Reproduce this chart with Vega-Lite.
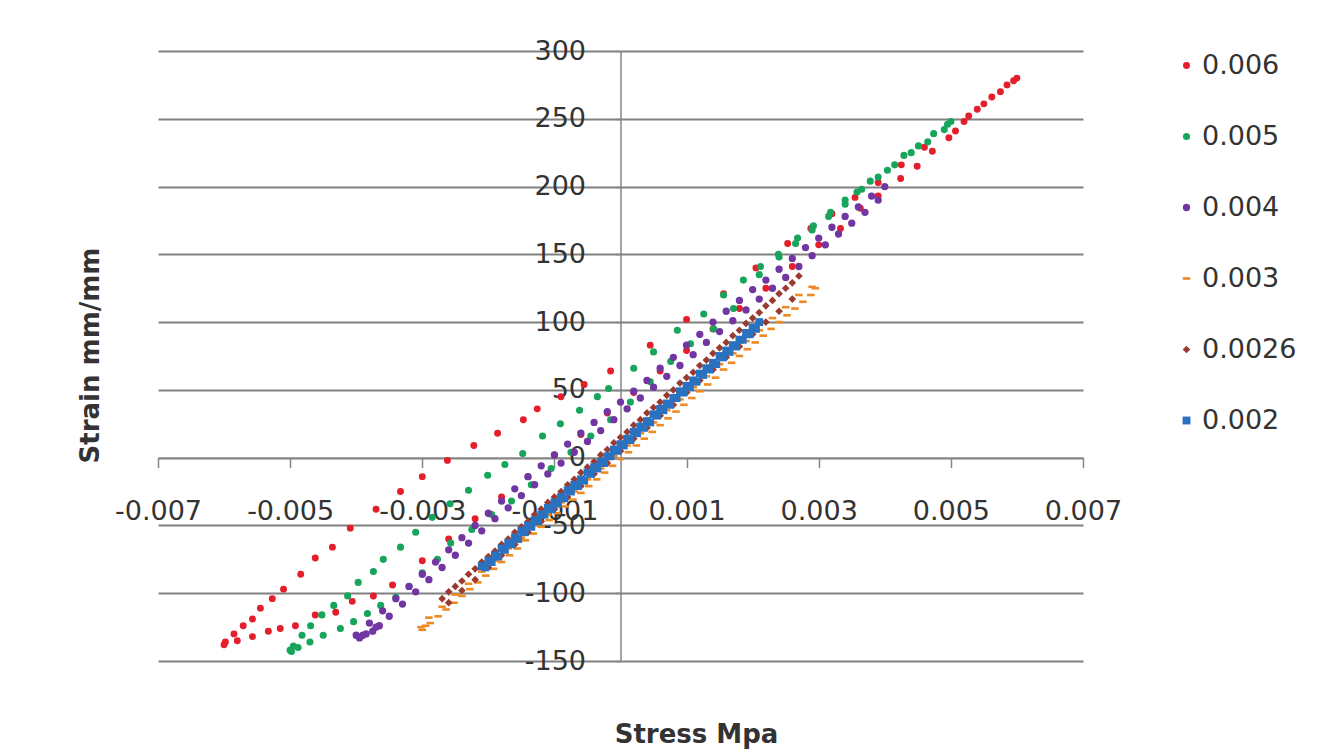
{
"$schema": "https://vega.github.io/schema/vega-lite/v6.json",
"width": 925, "height": 610,
"autosize": {"type": "none"},
"padding": {"left": 158, "top": 51, "right": 252, "bottom": 94},
"background": "white",
"config": {"view": {"stroke": null}, "font": "DejaVu Sans"},
"data": {"values": [
{"s":"0.006","x":-0.006,"y":-138},{"s":"0.006","x":-0.00598,"y":-136},{"s":"0.006","x":-0.00585,"y":-130},{"s":"0.006","x":-0.00571,"y":-124},{"s":"0.006","x":-0.00557,"y":-119},{"s":"0.006","x":-0.00545,"y":-111},{"s":"0.006","x":-0.00527,"y":-104},{"s":"0.006","x":-0.0051,"y":-97},{"s":"0.006","x":-0.00484,"y":-86},{"s":"0.006","x":-0.00462,"y":-74},{"s":"0.006","x":-0.00436,"y":-66},{"s":"0.006","x":-0.00409,"y":-52},{"s":"0.006","x":-0.0037,"y":-38},{"s":"0.006","x":-0.00333,"y":-25},{"s":"0.006","x":-0.003,"y":-14},{"s":"0.006","x":-0.00262,"y":-2},{"s":"0.006","x":-0.00222,"y":9},{"s":"0.006","x":-0.00186,"y":18},{"s":"0.006","x":-0.00147,"y":28},{"s":"0.006","x":-0.00126,"y":36},{"s":"0.006","x":-0.0009,"y":45},{"s":"0.006","x":-0.00055,"y":54},{"s":"0.006","x":-0.00015,"y":64},{"s":"0.006","x":0.00045,"y":83},{"s":"0.006","x":0.001,"y":102},{"s":"0.006","x":0.00156,"y":121},{"s":"0.006","x":0.00205,"y":140},{"s":"0.006","x":0.00253,"y":158},{"s":"0.006","x":0.00288,"y":169},{"s":"0.006","x":0.0032,"y":180},{"s":"0.006","x":0.00355,"y":192},{"s":"0.006","x":0.0039,"y":203},{"s":"0.006","x":0.00425,"y":216},{"s":"0.006","x":0.0046,"y":229},{"s":"0.006","x":0.00507,"y":241},{"s":"0.006","x":0.00527,"y":252},{"s":"0.006","x":0.0055,"y":261},{"s":"0.006","x":0.00575,"y":270},{"s":"0.006","x":0.00595,"y":278},{"s":"0.006","x":0.006,"y":280},
{"s":"0.006","x":0.00585,"y":275},{"s":"0.006","x":0.00562,"y":266},{"s":"0.006","x":0.0054,"y":257},{"s":"0.006","x":0.0052,"y":248},{"s":"0.006","x":0.00497,"y":236},{"s":"0.006","x":0.00472,"y":226},{"s":"0.006","x":0.00449,"y":215},{"s":"0.006","x":0.00424,"y":206},{"s":"0.006","x":0.0039,"y":193},{"s":"0.006","x":0.00363,"y":184},{"s":"0.006","x":0.00333,"y":169},{"s":"0.006","x":0.003,"y":157},{"s":"0.006","x":0.0026,"y":141},{"s":"0.006","x":0.0022,"y":125},{"s":"0.006","x":0.0018,"y":110},{"s":"0.006","x":0.0014,"y":95},{"s":"0.006","x":0.001,"y":79},{"s":"0.006","x":0.0006,"y":64},{"s":"0.006","x":0.0002,"y":48},{"s":"0.006","x":-0.0002,"y":33},{"s":"0.006","x":-0.0006,"y":17},{"s":"0.006","x":-0.001,"y":2},{"s":"0.006","x":-0.0014,"y":-14},{"s":"0.006","x":-0.0018,"y":-29},{"s":"0.006","x":-0.0022,"y":-45},{"s":"0.006","x":-0.0026,"y":-60},{"s":"0.006","x":-0.003,"y":-76},{"s":"0.006","x":-0.00345,"y":-94},{"s":"0.006","x":-0.00374,"y":-102},{"s":"0.006","x":-0.00406,"y":-106},{"s":"0.006","x":-0.00431,"y":-114},{"s":"0.006","x":-0.00462,"y":-116},{"s":"0.006","x":-0.00492,"y":-124},{"s":"0.006","x":-0.00515,"y":-126},{"s":"0.006","x":-0.00533,"y":-128},{"s":"0.006","x":-0.00557,"y":-132},{"s":"0.006","x":-0.0058,"y":-135},
{"s":"0.005","x":-0.005,"y":-142},{"s":"0.005","x":-0.00495,"y":-139},{"s":"0.005","x":-0.00482,"y":-131},{"s":"0.005","x":-0.00469,"y":-124},{"s":"0.005","x":-0.00452,"y":-116},{"s":"0.005","x":-0.00434,"y":-109},{"s":"0.005","x":-0.00413,"y":-102},{"s":"0.005","x":-0.00397,"y":-92},{"s":"0.005","x":-0.00374,"y":-84},{"s":"0.005","x":-0.00359,"y":-75},{"s":"0.005","x":-0.00333,"y":-66},{"s":"0.005","x":-0.0031,"y":-55},{"s":"0.005","x":-0.00285,"y":-44},{"s":"0.005","x":-0.00258,"y":-34},{"s":"0.005","x":-0.0023,"y":-24},{"s":"0.005","x":-0.00201,"y":-13},{"s":"0.005","x":-0.00175,"y":-5},{"s":"0.005","x":-0.00148,"y":3},{"s":"0.005","x":-0.00118,"y":16},{"s":"0.005","x":-0.00091,"y":25},{"s":"0.005","x":-0.00062,"y":35},{"s":"0.005","x":-0.00035,"y":45},{"s":"0.005","x":-0.00018,"y":51},{"s":"0.005","x":0.0002,"y":66},{"s":"0.005","x":0.0005,"y":78},{"s":"0.005","x":0.00086,"y":94},{"s":"0.005","x":0.00126,"y":106},{"s":"0.005","x":0.00156,"y":120},{"s":"0.005","x":0.00186,"y":131},{"s":"0.005","x":0.00212,"y":141},{"s":"0.005","x":0.00239,"y":150},{"s":"0.005","x":0.00268,"y":162},{"s":"0.005","x":0.00292,"y":171},{"s":"0.005","x":0.00318,"y":181},{"s":"0.005","x":0.0034,"y":190},{"s":"0.005","x":0.00358,"y":196},{"s":"0.005","x":0.00378,"y":204},{"s":"0.005","x":0.00404,"y":212},{"s":"0.005","x":0.00429,"y":223},{"s":"0.005","x":0.00451,"y":230},{"s":"0.005","x":0.00474,"y":239},{"s":"0.005","x":0.00495,"y":246},{"s":"0.005","x":0.005,"y":248},
{"s":"0.005","x":0.0049,"y":242},{"s":"0.005","x":0.00465,"y":233},{"s":"0.005","x":0.0044,"y":225},{"s":"0.005","x":0.00415,"y":216},{"s":"0.005","x":0.0039,"y":207},{"s":"0.005","x":0.00365,"y":198},{"s":"0.005","x":0.0034,"y":187},{"s":"0.005","x":0.00315,"y":178},{"s":"0.005","x":0.0029,"y":168},{"s":"0.005","x":0.00265,"y":158},{"s":"0.005","x":0.0024,"y":148},{"s":"0.005","x":0.0021,"y":135},{"s":"0.005","x":0.00171,"y":110},{"s":"0.005","x":0.00141,"y":95},{"s":"0.005","x":0.00106,"y":84},{"s":"0.005","x":0.00076,"y":71},{"s":"0.005","x":0.00045,"y":56},{"s":"0.005","x":0.00015,"y":41},{"s":"0.005","x":-0.00015,"y":28},{"s":"0.005","x":-0.00045,"y":16},{"s":"0.005","x":-0.00075,"y":4},{"s":"0.005","x":-0.00105,"y":-8},{"s":"0.005","x":-0.00135,"y":-20},{"s":"0.005","x":-0.00165,"y":-32},{"s":"0.005","x":-0.00195,"y":-42},{"s":"0.005","x":-0.00225,"y":-53},{"s":"0.005","x":-0.00257,"y":-63},{"s":"0.005","x":-0.00277,"y":-75},{"s":"0.005","x":-0.003,"y":-85},{"s":"0.005","x":-0.0032,"y":-95},{"s":"0.005","x":-0.0034,"y":-103},{"s":"0.005","x":-0.00363,"y":-109},{"s":"0.005","x":-0.00383,"y":-115},{"s":"0.005","x":-0.00404,"y":-121},{"s":"0.005","x":-0.00424,"y":-126},{"s":"0.005","x":-0.0045,"y":-131},{"s":"0.005","x":-0.0047,"y":-136},{"s":"0.005","x":-0.00488,"y":-140},{"s":"0.005","x":-0.00498,"y":-143},
{"s":"0.004","x":-0.004,"y":-131},{"s":"0.004","x":-0.0038,"y":-122},{"s":"0.004","x":-0.0036,"y":-113},{"s":"0.004","x":-0.0034,"y":-104},{"s":"0.004","x":-0.0032,"y":-95},{"s":"0.004","x":-0.003,"y":-86},{"s":"0.004","x":-0.0028,"y":-77},{"s":"0.004","x":-0.0026,"y":-68},{"s":"0.004","x":-0.0024,"y":-59},{"s":"0.004","x":-0.0022,"y":-50},{"s":"0.004","x":-0.002,"y":-41},{"s":"0.004","x":-0.0018,"y":-32},{"s":"0.004","x":-0.0016,"y":-23},{"s":"0.004","x":-0.0014,"y":-14},{"s":"0.004","x":-0.0012,"y":-6},{"s":"0.004","x":-0.001,"y":2},{"s":"0.004","x":-0.0008,"y":10},{"s":"0.004","x":-0.0006,"y":18},{"s":"0.004","x":-0.0004,"y":26},{"s":"0.004","x":-0.0002,"y":34},{"s":"0.004","x":0,"y":41},{"s":"0.004","x":0.0002,"y":49},{"s":"0.004","x":0.0004,"y":57},{"s":"0.004","x":0.0006,"y":66},{"s":"0.004","x":0.0008,"y":74},{"s":"0.004","x":0.001,"y":83},{"s":"0.004","x":0.0012,"y":91},{"s":"0.004","x":0.0014,"y":100},{"s":"0.004","x":0.0016,"y":108},{"s":"0.004","x":0.0018,"y":116},{"s":"0.004","x":0.002,"y":124},{"s":"0.004","x":0.0022,"y":131},{"s":"0.004","x":0.0024,"y":139},{"s":"0.004","x":0.0026,"y":147},{"s":"0.004","x":0.0028,"y":155},{"s":"0.004","x":0.003,"y":162},{"s":"0.004","x":0.0032,"y":170},{"s":"0.004","x":0.0034,"y":178},{"s":"0.004","x":0.0036,"y":185},{"s":"0.004","x":0.0038,"y":193},{"s":"0.004","x":0.004,"y":200},
{"s":"0.004","x":0.0039,"y":190},{"s":"0.004","x":0.0037,"y":181},{"s":"0.004","x":0.0035,"y":173},{"s":"0.004","x":0.0033,"y":165},{"s":"0.004","x":0.0031,"y":157},{"s":"0.004","x":0.0029,"y":149},{"s":"0.004","x":0.0027,"y":141},{"s":"0.004","x":0.0025,"y":133},{"s":"0.004","x":0.0023,"y":125},{"s":"0.004","x":0.0021,"y":117},{"s":"0.004","x":0.0019,"y":109},{"s":"0.004","x":0.0017,"y":101},{"s":"0.004","x":0.0015,"y":93},{"s":"0.004","x":0.0013,"y":85},{"s":"0.004","x":0.0011,"y":76},{"s":"0.004","x":0.0009,"y":68},{"s":"0.004","x":0.0007,"y":60},{"s":"0.004","x":0.0005,"y":52},{"s":"0.004","x":0.0003,"y":44},{"s":"0.004","x":0.0001,"y":36},{"s":"0.004","x":-0.0001,"y":28},{"s":"0.004","x":-0.0003,"y":20},{"s":"0.004","x":-0.0005,"y":12},{"s":"0.004","x":-0.0007,"y":4},{"s":"0.004","x":-0.0009,"y":-4},{"s":"0.004","x":-0.0011,"y":-12},{"s":"0.004","x":-0.0013,"y":-20},{"s":"0.004","x":-0.0015,"y":-28},{"s":"0.004","x":-0.0017,"y":-37},{"s":"0.004","x":-0.0019,"y":-45},{"s":"0.004","x":-0.0021,"y":-54},{"s":"0.004","x":-0.0023,"y":-63},{"s":"0.004","x":-0.0025,"y":-72},{"s":"0.004","x":-0.0027,"y":-81},{"s":"0.004","x":-0.0029,"y":-90},{"s":"0.004","x":-0.0031,"y":-99},{"s":"0.004","x":-0.0033,"y":-108},{"s":"0.004","x":-0.0035,"y":-117},{"s":"0.004","x":-0.0037,"y":-125},{"s":"0.004","x":-0.0039,"y":-131},{"s":"0.004","x":-0.00395,"y":-133},{"s":"0.004","x":-0.00385,"y":-130},{"s":"0.004","x":-0.00375,"y":-128},{"s":"0.004","x":-0.00365,"y":-124},
{"s":"0.003","x":-0.00302,"y":-125},{"s":"0.003","x":-0.00295,"y":-124},{"s":"0.003","x":-0.003,"y":-127},{"s":"0.003","x":-0.00288,"y":-122},{"s":"0.003","x":-0.00276,"y":-117},{"s":"0.003","x":-0.00264,"y":-112},{"s":"0.003","x":-0.00252,"y":-107},{"s":"0.003","x":-0.0024,"y":-102},{"s":"0.003","x":-0.00228,"y":-97},{"s":"0.003","x":-0.00216,"y":-92},{"s":"0.003","x":-0.00204,"y":-87},{"s":"0.003","x":-0.00192,"y":-82},{"s":"0.003","x":-0.0018,"y":-77},{"s":"0.003","x":-0.00168,"y":-72},{"s":"0.003","x":-0.00156,"y":-67},{"s":"0.003","x":-0.00144,"y":-61},{"s":"0.003","x":-0.00132,"y":-56},{"s":"0.003","x":-0.0012,"y":-51},{"s":"0.003","x":-0.00108,"y":-46},{"s":"0.003","x":-0.00096,"y":-41},{"s":"0.003","x":-0.00084,"y":-36},{"s":"0.003","x":-0.00072,"y":-31},{"s":"0.003","x":-0.0006,"y":-26},{"s":"0.003","x":-0.00048,"y":-21},{"s":"0.003","x":-0.00036,"y":-16},{"s":"0.003","x":-0.00024,"y":-11},{"s":"0.003","x":-0.00012,"y":-6},{"s":"0.003","x":0,"y":-1},{"s":"0.003","x":0.00012,"y":4},{"s":"0.003","x":0.00024,"y":9},{"s":"0.003","x":0.00036,"y":14},{"s":"0.003","x":0.00048,"y":19},{"s":"0.003","x":0.0006,"y":24},{"s":"0.003","x":0.00072,"y":29},{"s":"0.003","x":0.00084,"y":34},{"s":"0.003","x":0.00096,"y":39},{"s":"0.003","x":0.00108,"y":44},{"s":"0.003","x":0.0012,"y":49},{"s":"0.003","x":0.00132,"y":54},{"s":"0.003","x":0.00144,"y":59},{"s":"0.003","x":0.00156,"y":65},{"s":"0.003","x":0.00168,"y":70},{"s":"0.003","x":0.0018,"y":75},{"s":"0.003","x":0.00192,"y":80},{"s":"0.003","x":0.00204,"y":85},{"s":"0.003","x":0.00216,"y":90},{"s":"0.003","x":0.00228,"y":95},{"s":"0.003","x":0.0024,"y":100},{"s":"0.003","x":0.00252,"y":105},{"s":"0.003","x":0.00264,"y":110},{"s":"0.003","x":0.00276,"y":115},{"s":"0.003","x":0.00288,"y":120},{"s":"0.003","x":0.00295,"y":125},
{"s":"0.003","x":-0.0029,"y":-118},{"s":"0.003","x":-0.0027,"y":-110},{"s":"0.003","x":-0.0025,"y":-101},{"s":"0.003","x":-0.0023,"y":-93},{"s":"0.003","x":-0.0021,"y":-84},{"s":"0.003","x":-0.0019,"y":-76},{"s":"0.003","x":-0.0017,"y":-67},{"s":"0.003","x":-0.0015,"y":-59},{"s":"0.003","x":-0.0013,"y":-50},{"s":"0.003","x":-0.0011,"y":-42},{"s":"0.003","x":-0.0009,"y":-33},{"s":"0.003","x":-0.0007,"y":-25},{"s":"0.003","x":-0.0005,"y":-16},{"s":"0.003","x":-0.0003,"y":-8},{"s":"0.003","x":-0.0001,"y":1},{"s":"0.003","x":0.0001,"y":9},{"s":"0.003","x":0.0003,"y":18},{"s":"0.003","x":0.0005,"y":26},{"s":"0.003","x":0.0007,"y":35},{"s":"0.003","x":0.0009,"y":43},{"s":"0.003","x":0.0011,"y":52},{"s":"0.003","x":0.0013,"y":60},{"s":"0.003","x":0.0015,"y":69},{"s":"0.003","x":0.0017,"y":77},{"s":"0.003","x":0.0019,"y":86},{"s":"0.003","x":0.0021,"y":94},{"s":"0.003","x":0.0023,"y":103},{"s":"0.003","x":0.0025,"y":111},{"s":"0.003","x":0.0027,"y":120},{"s":"0.003","x":0.0029,"y":126},
{"s":"0.0026","x":-0.0027,"y":-104},{"s":"0.0026","x":-0.0026,"y":-99},{"s":"0.0026","x":-0.0025,"y":-95},{"s":"0.0026","x":-0.0024,"y":-91},{"s":"0.0026","x":-0.0023,"y":-86},{"s":"0.0026","x":-0.0022,"y":-82},{"s":"0.0026","x":-0.0021,"y":-77},{"s":"0.0026","x":-0.002,"y":-73},{"s":"0.0026","x":-0.0019,"y":-69},{"s":"0.0026","x":-0.0018,"y":-64},{"s":"0.0026","x":-0.0017,"y":-60},{"s":"0.0026","x":-0.0016,"y":-55},{"s":"0.0026","x":-0.0015,"y":-51},{"s":"0.0026","x":-0.0014,"y":-47},{"s":"0.0026","x":-0.0013,"y":-42},{"s":"0.0026","x":-0.0012,"y":-38},{"s":"0.0026","x":-0.0011,"y":-33},{"s":"0.0026","x":-0.001,"y":-29},{"s":"0.0026","x":-0.0009,"y":-25},{"s":"0.0026","x":-0.0008,"y":-20},{"s":"0.0026","x":-0.0007,"y":-16},{"s":"0.0026","x":-0.0006,"y":-11},{"s":"0.0026","x":-0.0005,"y":-7},{"s":"0.0026","x":-0.0004,"y":-3},{"s":"0.0026","x":-0.0003,"y":2},{"s":"0.0026","x":-0.0002,"y":6},{"s":"0.0026","x":-0.0001,"y":11},{"s":"0.0026","x":0,"y":15},{"s":"0.0026","x":0.0001,"y":19},{"s":"0.0026","x":0.0002,"y":24},{"s":"0.0026","x":0.0003,"y":28},{"s":"0.0026","x":0.0004,"y":33},{"s":"0.0026","x":0.0005,"y":37},{"s":"0.0026","x":0.0006,"y":41},{"s":"0.0026","x":0.0007,"y":46},{"s":"0.0026","x":0.0008,"y":50},{"s":"0.0026","x":0.0009,"y":55},{"s":"0.0026","x":0.001,"y":59},{"s":"0.0026","x":0.0011,"y":63},{"s":"0.0026","x":0.0012,"y":68},{"s":"0.0026","x":0.0013,"y":72},{"s":"0.0026","x":0.0014,"y":77},{"s":"0.0026","x":0.0015,"y":81},{"s":"0.0026","x":0.0016,"y":85},{"s":"0.0026","x":0.0017,"y":90},{"s":"0.0026","x":0.0018,"y":94},{"s":"0.0026","x":0.0019,"y":99},{"s":"0.0026","x":0.002,"y":103},{"s":"0.0026","x":0.0021,"y":107},{"s":"0.0026","x":0.0022,"y":112},{"s":"0.0026","x":0.0023,"y":116},{"s":"0.0026","x":0.0024,"y":121},{"s":"0.0026","x":0.0025,"y":125},{"s":"0.0026","x":0.0026,"y":129},{"s":"0.0026","x":0.0027,"y":134},
{"s":"0.0026","x":-0.0026,"y":-107},{"s":"0.0026","x":-0.0024,"y":-98},{"s":"0.0026","x":-0.0022,"y":-90},{"s":"0.0026","x":-0.002,"y":-81},{"s":"0.0026","x":-0.0018,"y":-72},{"s":"0.0026","x":-0.0016,"y":-64},{"s":"0.0026","x":-0.0014,"y":-55},{"s":"0.0026","x":-0.0012,"y":-47},{"s":"0.0026","x":-0.001,"y":-38},{"s":"0.0026","x":-0.0008,"y":-29},{"s":"0.0026","x":-0.0006,"y":-21},{"s":"0.0026","x":-0.0004,"y":-12},{"s":"0.0026","x":-0.0002,"y":-4},{"s":"0.0026","x":0,"y":5},{"s":"0.0026","x":0.0002,"y":14},{"s":"0.0026","x":0.0004,"y":22},{"s":"0.0026","x":0.0006,"y":31},{"s":"0.0026","x":0.0008,"y":39},{"s":"0.0026","x":0.001,"y":48},{"s":"0.0026","x":0.0012,"y":57},{"s":"0.0026","x":0.0014,"y":65},{"s":"0.0026","x":0.0016,"y":74},{"s":"0.0026","x":0.0018,"y":82},{"s":"0.0026","x":0.002,"y":91},{"s":"0.0026","x":0.0022,"y":100},{"s":"0.0026","x":0.0024,"y":108},{"s":"0.0026","x":0.0026,"y":117},
{"s":"0.002","x":-0.0021,"y":-80},{"s":"0.002","x":-0.002,"y":-76},{"s":"0.002","x":-0.0019,"y":-72},{"s":"0.002","x":-0.0018,"y":-67},{"s":"0.002","x":-0.0017,"y":-63},{"s":"0.002","x":-0.0016,"y":-59},{"s":"0.002","x":-0.0015,"y":-54},{"s":"0.002","x":-0.0014,"y":-50},{"s":"0.002","x":-0.0013,"y":-46},{"s":"0.002","x":-0.0012,"y":-42},{"s":"0.002","x":-0.0011,"y":-37},{"s":"0.002","x":-0.001,"y":-33},{"s":"0.002","x":-0.0009,"y":-29},{"s":"0.002","x":-0.0008,"y":-24},{"s":"0.002","x":-0.0007,"y":-20},{"s":"0.002","x":-0.0006,"y":-16},{"s":"0.002","x":-0.0005,"y":-11},{"s":"0.002","x":-0.0004,"y":-7},{"s":"0.002","x":-0.0003,"y":-3},{"s":"0.002","x":-0.0002,"y":1},{"s":"0.002","x":-0.0001,"y":6},{"s":"0.002","x":0,"y":10},{"s":"0.002","x":0.0001,"y":14},{"s":"0.002","x":0.0002,"y":19},{"s":"0.002","x":0.0003,"y":23},{"s":"0.002","x":0.0004,"y":27},{"s":"0.002","x":0.0005,"y":32},{"s":"0.002","x":0.0006,"y":36},{"s":"0.002","x":0.0007,"y":40},{"s":"0.002","x":0.0008,"y":44},{"s":"0.002","x":0.0009,"y":49},{"s":"0.002","x":0.001,"y":53},{"s":"0.002","x":0.0011,"y":57},{"s":"0.002","x":0.0012,"y":62},{"s":"0.002","x":0.0013,"y":66},{"s":"0.002","x":0.0014,"y":70},{"s":"0.002","x":0.0015,"y":75},{"s":"0.002","x":0.0016,"y":79},{"s":"0.002","x":0.0017,"y":83},{"s":"0.002","x":0.0018,"y":87},{"s":"0.002","x":0.0019,"y":92},{"s":"0.002","x":0.002,"y":96},{"s":"0.002","x":0.0021,"y":100},
{"s":"0.002","x":-0.00205,"y":-81},{"s":"0.002","x":-0.00195,"y":-77},{"s":"0.002","x":-0.00185,"y":-73},{"s":"0.002","x":-0.00175,"y":-68},{"s":"0.002","x":-0.00165,"y":-64},{"s":"0.002","x":-0.00155,"y":-60},{"s":"0.002","x":-0.00145,"y":-55},{"s":"0.002","x":-0.00135,"y":-51},{"s":"0.002","x":-0.00125,"y":-47},{"s":"0.002","x":-0.00115,"y":-42},{"s":"0.002","x":-0.00105,"y":-38},{"s":"0.002","x":-0.00095,"y":-34},{"s":"0.002","x":-0.00085,"y":-30},{"s":"0.002","x":-0.00075,"y":-25},{"s":"0.002","x":-0.00065,"y":-21},{"s":"0.002","x":-0.00055,"y":-17},{"s":"0.002","x":-0.00045,"y":-12},{"s":"0.002","x":-0.00035,"y":-8},{"s":"0.002","x":-0.00025,"y":-4},{"s":"0.002","x":-0.00015,"y":1},{"s":"0.002","x":-0.00005,"y":5},{"s":"0.002","x":0.00005,"y":9},{"s":"0.002","x":0.00015,"y":13},{"s":"0.002","x":0.00025,"y":18},{"s":"0.002","x":0.00035,"y":22},{"s":"0.002","x":0.00045,"y":26},{"s":"0.002","x":0.00055,"y":31},{"s":"0.002","x":0.00065,"y":35},{"s":"0.002","x":0.00075,"y":39},{"s":"0.002","x":0.00085,"y":44},{"s":"0.002","x":0.00095,"y":48},{"s":"0.002","x":0.00105,"y":52},{"s":"0.002","x":0.00115,"y":56},{"s":"0.002","x":0.00125,"y":61},{"s":"0.002","x":0.00135,"y":65},{"s":"0.002","x":0.00145,"y":69},{"s":"0.002","x":0.00155,"y":74},{"s":"0.002","x":0.00165,"y":78},{"s":"0.002","x":0.00175,"y":82},{"s":"0.002","x":0.00185,"y":87},{"s":"0.002","x":0.00195,"y":91},{"s":"0.002","x":0.00205,"y":95}
]},
"mark": {"type": "point", "filled": true, "opacity": 1},
"encoding": {
  "x": {"field": "x", "type": "quantitative",
    "scale": {"domain": [-0.007, 0.007], "nice": false, "zero": false},
    "axis": {"title": "Stress Mpa", "orient": "bottom", "offset": -203.33, "zindex": 0, "grid": false,
      "values": [-0.007, -0.005, -0.003, -0.001, 0.001, 0.003, 0.005, 0.007],
      "labelExpr": "(datum.value < 0 ? '-' : '') + format(abs(datum.value), '.3f')",
      "tickSize": 10, "tickColor": "#868686", "tickWidth": 1.5, "domainColor": "#868686", "domainWidth": 1.5,
      "labelFont": "DejaVu Sans", "labelFontSize": 27, "labelColor": "#333333", "labelPadding": 31,
      "labelFlush": false, "labelOverlap": false, "labelBound": false,
      "titleFont": "DejaVu Sans", "titleFontSize": 26, "titleFontWeight": "bold", "titleColor": "#333333",
      "titleX": 538, "titleY": 277, "titleAlign": "center", "titleBaseline": "middle", "titleAngle": 0}},
  "y": {"field": "y", "type": "quantitative",
    "scale": {"domain": [-150, 300], "nice": false, "zero": false},
    "axis": {"title": "Strain mm/mm", "orient": "left", "offset": -462.5, "zindex": 0,
      "values": [-150, -100, -50, 0, 50, 100, 150, 200, 250, 300],
      "labelExpr": "(datum.value < 0 ? '-' : '') + format(abs(datum.value), 'd')",
      "grid": true, "gridColor": "#808080", "gridWidth": 2,
      "tickSize": 6, "tickColor": "#868686", "tickWidth": 1.5, "domainColor": "#868686", "domainWidth": 1.5,
      "labelFont": "DejaVu Sans", "labelFontSize": 27, "labelColor": "#333333", "labelPadding": 29,
      "labelFlush": false, "labelOverlap": false, "labelBound": false,
      "titleFont": "DejaVu Sans", "titleFontSize": 26, "titleFontWeight": "bold", "titleColor": "#333333",
      "titleX": -530.5, "titleY": 304, "titleAngle": -90, "titleAlign": "center", "titleBaseline": "middle"}},
  "color": {"field": "s", "type": "nominal",
    "scale": {"domain": ["0.006", "0.005", "0.004", "0.003", "0.0026", "0.002"],
              "range": ["#E41E2B", "#17A55C", "#7136A2", "#ED8A24", "#9B3B2F", "#2A72C0"]},
    "legend": {"orient": "none", "legendX": 1015, "legendY": 1, "title": null, "padding": 0,
      "labelFont": "DejaVu Sans", "labelFontSize": 27, "labelColor": "#333333", "rowPadding": 43, "labelOffset": 2}},
  "shape": {"field": "s", "type": "nominal",
    "scale": {"domain": ["0.006", "0.005", "0.004", "0.003", "0.0026", "0.002"],
              "range": ["circle", "circle", "circle", "M-1,-0.35H1V0.35H-1Z", "diamond", "square"]},
    "legend": {"orient": "none", "legendX": 1015, "legendY": 1, "title": null, "padding": 0,
      "labelFont": "DejaVu Sans", "labelFontSize": 27, "labelColor": "#333333", "rowPadding": 43, "labelOffset": 2}},
  "size": {"field": "s", "type": "nominal",
    "scale": {"domain": ["0.006", "0.005", "0.004", "0.003", "0.0026", "0.002"],
              "range": [48, 62, 26, 90, 90, 80]},
    "legend": {"orient": "none", "legendX": 1015, "legendY": 1, "title": null, "padding": 0,
      "labelFont": "DejaVu Sans", "labelFontSize": 27, "labelColor": "#333333", "rowPadding": 43, "labelOffset": 2}}
}
}
